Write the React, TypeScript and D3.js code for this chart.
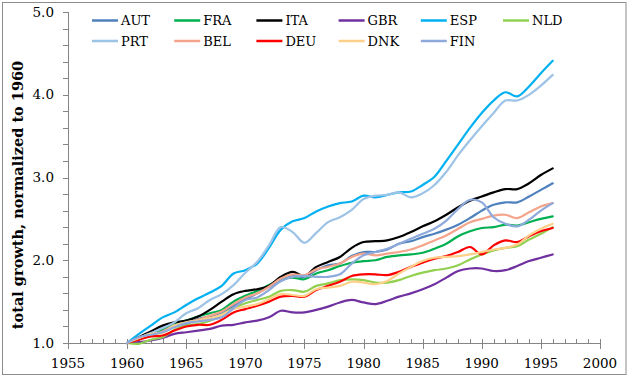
import React from "react";
import * as d3 from "d3";

const years = d3.range(1960, 1997);

const AUT = [1.0,1.06,1.09,1.14,1.20,1.23,1.29,1.32,1.37,1.45,1.53,1.60,1.68,1.75,1.81,1.80,1.88,1.94,1.96,2.05,2.10,2.10,2.13,2.20,2.23,2.28,2.32,2.37,2.43,2.51,2.60,2.67,2.70,2.70,2.77,2.85,2.93];
const FRA = [1.0,1.05,1.12,1.16,1.23,1.27,1.32,1.36,1.40,1.50,1.57,1.63,1.70,1.77,1.79,1.77,1.84,1.88,1.93,1.97,1.99,2.00,2.04,2.06,2.07,2.09,2.14,2.20,2.29,2.35,2.39,2.40,2.43,2.42,2.46,2.50,2.53];
const ITA = [1.0,1.07,1.14,1.21,1.25,1.27,1.32,1.40,1.50,1.59,1.63,1.65,1.69,1.80,1.86,1.81,1.92,1.98,2.04,2.15,2.22,2.23,2.24,2.28,2.34,2.41,2.47,2.55,2.64,2.72,2.77,2.82,2.86,2.86,2.93,3.03,3.11];
const GBR = [1.0,1.01,1.03,1.06,1.11,1.13,1.15,1.17,1.21,1.22,1.25,1.27,1.31,1.39,1.37,1.37,1.40,1.44,1.49,1.52,1.49,1.47,1.51,1.56,1.60,1.65,1.71,1.79,1.87,1.90,1.90,1.87,1.88,1.93,1.99,2.03,2.07];
const ESP = [1.0,1.11,1.21,1.31,1.37,1.46,1.54,1.61,1.69,1.84,1.88,1.96,2.15,2.37,2.47,2.51,2.59,2.65,2.69,2.71,2.78,2.76,2.79,2.82,2.83,2.91,3.01,3.20,3.40,3.60,3.78,3.93,4.03,3.98,4.10,4.26,4.41];
const NLD = [1.0,0.99,1.04,1.07,1.16,1.21,1.23,1.27,1.34,1.42,1.48,1.52,1.56,1.63,1.64,1.62,1.69,1.72,1.76,1.77,1.76,1.73,1.73,1.76,1.81,1.85,1.88,1.90,1.94,2.01,2.07,2.12,2.15,2.17,2.25,2.32,2.40];
const PRT = [1.0,1.06,1.12,1.18,1.25,1.36,1.42,1.52,1.59,1.70,1.85,1.98,2.18,2.40,2.34,2.21,2.33,2.46,2.52,2.61,2.74,2.78,2.79,2.82,2.76,2.81,2.91,3.07,3.27,3.45,3.62,3.78,3.93,3.93,4.00,4.11,4.24];
const BEL = [1.0,1.05,1.10,1.14,1.21,1.25,1.28,1.33,1.38,1.47,1.55,1.60,1.68,1.78,1.83,1.82,1.89,1.92,1.96,2.04,2.08,2.06,2.08,2.10,2.13,2.18,2.24,2.30,2.38,2.46,2.50,2.54,2.55,2.51,2.58,2.65,2.69];
const DEU = [1.0,1.04,1.08,1.09,1.15,1.20,1.22,1.22,1.28,1.37,1.41,1.45,1.50,1.56,1.57,1.56,1.64,1.69,1.74,1.81,1.83,1.83,1.82,1.86,1.92,1.97,2.02,2.05,2.10,2.16,2.07,2.18,2.24,2.22,2.29,2.35,2.39];
const DNK = [1.0,1.06,1.11,1.12,1.21,1.25,1.27,1.30,1.34,1.41,1.44,1.47,1.53,1.59,1.58,1.57,1.65,1.67,1.69,1.74,1.73,1.71,1.75,1.84,1.92,1.99,2.03,2.04,2.05,2.07,2.10,2.13,2.15,2.19,2.30,2.38,2.44];
const FIN = [1.0,1.07,1.10,1.13,1.19,1.24,1.26,1.28,1.31,1.42,1.52,1.55,1.64,1.75,1.80,1.81,1.80,1.80,1.83,1.96,2.06,2.10,2.14,2.20,2.26,2.32,2.38,2.48,2.62,2.73,2.70,2.52,2.44,2.41,2.49,2.60,2.69];

const seriesNames = ["AUT","FRA","ITA","GBR","ESP","NLD","PRT","BEL","DEU","DNK","FIN"];
const seriesValues = [AUT, FRA, ITA, GBR, ESP, NLD, PRT, BEL, DEU, DNK, FIN];
const seriesColors = ["#4F81BD","#00B050","#000000","#7030A0","#00B0F0","#92D050","#9DC3E6","#F4A48A","#FF0000","#FFD08A","#8EA9DB"];

const xTicks = [1955,1960,1965,1970,1975,1980,1985,1990,1995,2000];
const yTicks = [1.0,2.0,3.0,4.0,5.0];
const yTitle = "total growth, normalized to 1960";

const W = 629, H = 378;
const FONT = "'DejaVu Serif', serif";

export default function App() {
  const x = d3.scaleLinear().domain([1955, 2000]).range([68, 600]);
  const y = d3.scaleLinear().domain([1, 5]).range([343, 12]);
  const line = d3.line<number>()
    .x((_, i) => x(years[i]))
    .y((d) => y(d))
    .curve(d3.curveCatmullRom.alpha(0.5));

  const minorX = d3.range(1955, 2001);
  const minorY = d3.range(0, 21).map((i) => 1 + i * 0.2);
  const axisColor = "#868686";

  return (
    <svg width={W} height={H} style={{ position: "absolute", left: 0, top: 0, background: "#fff" }} fontFamily={FONT}>
      <rect x={2.5} y={2.5} width={623.5} height={372} fill="#fff" stroke="#8c8c8c" strokeWidth={1} />
      {/* y axis */}
      <line x1={68.5} x2={68.5} y1={y(5)} y2={y(1) + 5} stroke={axisColor} />
      {minorY.map((v, i) => (
        <line key={"ym" + i} x1={63} x2={68.5} y1={Math.round(y(v)) + 0.5} y2={Math.round(y(v)) + 0.5} stroke={axisColor} />
      ))}
      {yTicks.map((v) => (
        <text key={"yt" + v} x={54} y={y(v)} dy="0.35em" textAnchor="end" fontSize={13.5} fill="#000">
          {v.toFixed(1)}
        </text>
      ))}
      {/* x axis */}
      <line x1={68} x2={600.5} y1={343.5} y2={343.5} stroke={axisColor} />
      {minorX.map((v) => (
        <line key={"xm" + v} x1={Math.round(x(v)) + 0.5} x2={Math.round(x(v)) + 0.5} y1={339} y2={343.5} stroke={axisColor} />
      ))}
      {xTicks.map((v) => (
        <line key={"xM" + v} x1={Math.round(x(v)) + 0.5} x2={Math.round(x(v)) + 0.5} y1={339} y2={349} stroke={axisColor} />
      ))}
      {xTicks.map((v) => (
        <text key={"xt" + v} x={x(v)} y={368} textAnchor="middle" fontSize={13.5} fill="#000">
          {v}
        </text>
      ))}
      {/* title */}
      <text transform={`translate(23,${195}) rotate(-90)`} textAnchor="middle" fontSize={14.5} fontWeight="bold" fill="#000">
        {yTitle}
      </text>
      {/* series */}
      {seriesValues.map((vals, i) => (
        <path key={seriesNames[i]} d={line(vals) || ""} fill="none" stroke={seriesColors[i]} strokeWidth={2.2} strokeLinejoin="round" strokeLinecap="round" />
      ))}
      {/* legend */}
      {seriesNames.map((name, i) => {
        const col = i % 6;
        const row = Math.floor(i / 6);
        const lx = 92 + col * 82.2;
        const ly = 20.5 + row * 20.5;
        return (
          <g key={"lg" + name}>
            <line x1={lx} x2={lx + 26} y1={ly} y2={ly} stroke={seriesColors[i]} strokeWidth={2.5} />
            <text x={lx + 29} y={ly} dy="0.36em" fontSize={13} fill="#000">{name}</text>
          </g>
        );
      })}
    </svg>
  );
}
